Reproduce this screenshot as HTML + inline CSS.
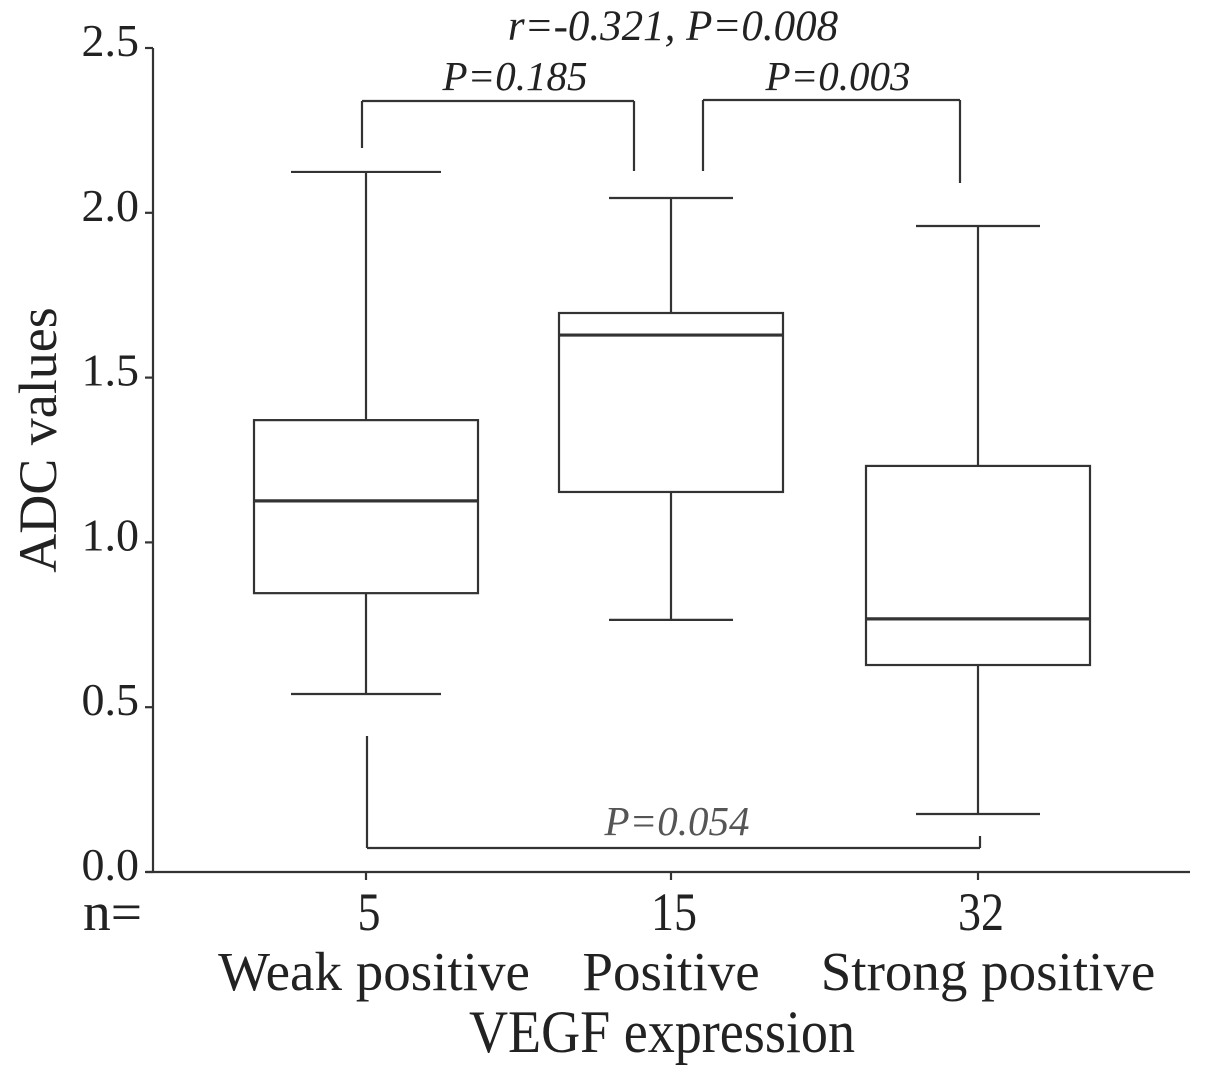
<!DOCTYPE html>
<html><head><meta charset="utf-8"><style>
body{margin:0;background:#fff}
svg text{font-family:"Liberation Serif",serif;fill:#222}
</style></head><body>
<svg id="chart" width="1205" height="1076" xmlns="http://www.w3.org/2000/svg">
<g id="g" stroke="#333" stroke-width="2.2" fill="none"></g>
<g id="t"></g>
</svg>
<script>
const categories=["Weak positive","Positive","Strong positive"];
const nValues=["5","15","32"];
const whiskerHigh=[2.124,2.045,1.96];
const q3=[1.371,1.696,1.232];
const medians=[1.126,1.629,0.768];
const q1=[0.846,1.153,0.628];
const whiskerLow=[0.54,0.765,0.176];
const yTicks=[0,0.5,1.0,1.5,2.0,2.5];
const yTickLabels=["0.0","0.5","1.0","1.5","2.0","2.5"];
const NS="http://www.w3.org/2000/svg";
const g=document.getElementById('g'),t=document.getElementById('t');
const y=v=>872-v*329.6;
const xc=[366,671,978];
const labelX=[374,671,988];
function line(x1,y1,x2,y2,name,w){const l=document.createElementNS(NS,'line');
l.setAttribute('x1',x1);l.setAttribute('y1',y1);l.setAttribute('x2',x2);l.setAttribute('y2',y2);
if(w)l.setAttribute('stroke-width',w);


g.appendChild(l);}
function text(s,x,yy,size,name,opt){const e=document.createElementNS(NS,'text');
e.setAttribute('x',x);e.setAttribute('y',yy);e.setAttribute('font-size',size);
e.setAttribute('text-anchor',(opt&&opt.anchor)||'middle');
if(opt&&opt.italic)e.setAttribute('font-style','italic');
if(opt&&opt.rot)e.setAttribute('transform',opt.rot);
if(opt&&opt.fill)e.setAttribute('style','fill:'+opt.fill);
if(opt&&opt.len){e.setAttribute('textLength',opt.len);e.setAttribute('lengthAdjust','spacingAndGlyphs');}
e.textContent=s;


t.appendChild(e);}
line(153,48,153,872,'y-axis');
line(146,872,1190,872,'x-axis');
yTicks.forEach((v,i)=>{line(145,y(v),153,y(v),'y-tick');text(yTickLabels[i],139,y(v)+8,46,'y-tick-label',{anchor:'end'});});
xc.forEach(x=>line(x,872,x,880,'x-tick'));
categories.forEach((c,i)=>{const x=xc[i],hw=112,cw=i==0?75:62;
line(x,y(whiskerHigh[i]),x,y(q3[i]),'whisker-upper');
line(x,y(q1[i]),x,y(whiskerLow[i]),'whisker-lower');
line(x-cw,y(whiskerHigh[i]),x+cw,y(whiskerHigh[i]),'whisker-cap-upper');
line(x-cw,y(whiskerLow[i]),x+cw,y(whiskerLow[i]),'whisker-cap-lower');
const r=document.createElementNS(NS,'rect');
r.setAttribute('x',x-hw);r.setAttribute('y',y(q3[i]));r.setAttribute('width',2*hw);r.setAttribute('height',y(q1[i])-y(q3[i]));


g.appendChild(r);
line(x-hw,y(medians[i]),x+hw,y(medians[i]),'median-line',3.2);
text(nValues[i],x+3,930,54,'n-label',{len:nValues[i].length*23});
text(c,labelX[i],990,55,'category-label');
});
text('n=',83,930,54,'n-prefix',{anchor:'start',len:59});
text('VEGF expression',662,1052,60,'x-axis-title',{len:386});
text('ADC values',56,440,54,'y-axis-title',{rot:'rotate(-90 56 440)'});
line(362,101,634,101,'bracket-1-2');line(362,101,362,148,'bracket');line(634,101,634,171,'bracket');
line(703,100,960,100,'bracket-2-3');line(703,100,703,171,'bracket');line(960,100,960,183,'bracket');
line(367,848,980,848,'bracket-1-3');line(367,848,367,736,'bracket');line(980,848,980,836,'bracket');
text('r=-0.321, P=0.008',673,40,43,'correlation-annotation',{italic:1});
text('P=0.185',515,90,41,'p-value-1-2',{italic:1});
text('P=0.003',838,90,41,'p-value-2-3',{italic:1});
text('P=0.054',677,835,41,'p-value-1-3',{italic:1,fill:'#555'});
</script>
</body></html>
